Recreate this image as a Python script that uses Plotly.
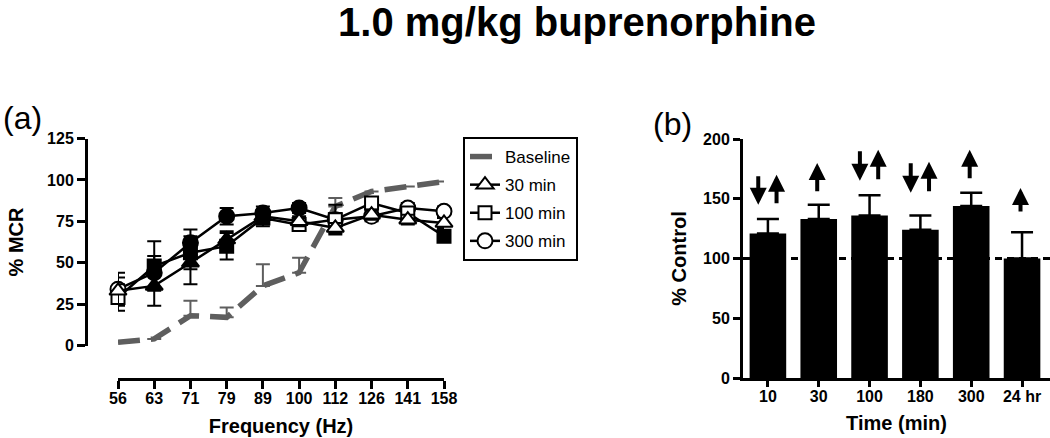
import plotly.graph_objects as go

# ---------------- data ----------------
freq_labels = ["56", "63", "71", "79", "89", "100", "112", "126", "141", "158"]

baseline_vals = [2, 4, 18, 17, 36, 44, 84, 93, 96, 99]
baseline_err = [0, 0, 9, 6, 13, 9, 5, 0, 0, 0]

min30_vals = [33, 36, 50, 64, 78, 75, 71, 79, 76, 74]
min30_err = [8, 12, 13, 5, 4, 3, 3, 3, 3, 3]
min30_sig = [False, True, True, True, True, False, False, False, False, False]

min100_vals = [29, 48, 56, 60, 77, 73, 76, 86, 80, 66]
min100_err = [8, 15, 10, 8, 5, 3, 4, 3, 3, 3]
min100_sig = [False, True, True, True, True, False, False, False, False, True]

min300_vals = [34, 44, 62, 78, 80, 83, 76, 78, 83, 81]
min300_err = [10, 10, 8, 5, 4, 3, 9, 3, 3, 3]
min300_sig = [False, True, True, True, True, True, False, False, False, False]

time_labels = ["10", "30", "100", "180", "300", "24 hr"]
ctrl_vals = [121, 133, 136, 124, 144, 100]
ctrl_err = [12, 12, 17, 12, 11, 22]
arrow_down = [True, False, True, True, False, False]
arrow_up = [True, True, True, True, True, True]
arrow_low = [145, 155, 165, 155, 166, 138]
arrow_high = [170, 180, 191, 181, 191, 159]

# ---------------- layout helpers ----------------
W, H = 1050, 438
FONT = "Liberation Sans, Arial, sans-serif"


def px_x(p):
    return p / W


def px_y(p):
    return 1 - p / H


fig = go.Figure()

xi = list(range(len(freq_labels)))

# Baseline
fig.add_trace(go.Scatter(
    x=xi, y=baseline_vals, name="Baseline", mode="lines",
    line=dict(color="#5e5e5e", width=5.5, dash="22px,11px"),
    error_y=dict(type="data", array=baseline_err, arrayminus=[0] * len(baseline_err),
                 symmetric=False, color="#5e5e5e", thickness=2, width=7),
    cliponaxis=False, xaxis="x", yaxis="y", legendgroup="g1", legendrank=1,
))

series = [
    ("30 min", min30_vals, min30_err, min30_sig, "triangle-up", 15, 2),
    ("100 min", min100_vals, min100_err, min100_sig, "square", 13, 3),
    ("300 min", min300_vals, min300_err, min300_sig, "circle", 15, 4),
]
# draw later series first so triangles sit on top (as in the original)
for name, vals, err, sig, sym, size, rank in reversed(series):
    fig.add_trace(go.Scatter(
        x=xi, y=vals, name=name, mode="lines+markers",
        line=dict(color="black", width=2.5),
        marker=dict(symbol=sym, size=size,
                    color=["black" if s else "white" for s in sig],
                    line=dict(color="black", width=2)),
        error_y=dict(type="data", array=err, color="black", thickness=2, width=7),
        cliponaxis=False, xaxis="x", yaxis="y", legendgroup="g%d" % rank,
        legendrank=rank,
    ))

# Panel (b) bars
bi = list(range(len(time_labels)))
fig.add_trace(go.Bar(
    x=bi, y=ctrl_vals, width=0.72, marker=dict(color="black", line=dict(width=0)),
    error_y=dict(type="data", array=ctrl_err, arrayminus=[0] * len(ctrl_err),
                 symmetric=False, color="black", thickness=2.5, width=11),
    showlegend=False, xaxis="x2", yaxis="y2",
))

# arrows
for i in bi:
    both = arrow_down[i] and arrow_up[i]
    if arrow_down[i]:
        xd = i - 0.19
        fig.add_annotation(x=xd, y=arrow_low[i], ax=xd, ay=arrow_high[i],
                           xref="x2", yref="y2", axref="x2", ayref="y2",
                           showarrow=True, arrowhead=2, arrowwidth=4, arrowsize=0.85,
                           arrowcolor="black", text="", standoff=0, startstandoff=0)
    if arrow_up[i]:
        xu = i + 0.17 if both else i - 0.03
        fig.add_annotation(x=xu, y=arrow_high[i], ax=xu, ay=arrow_low[i],
                           xref="x2", yref="y2", axref="x2", ayref="y2",
                           showarrow=True, arrowhead=2, arrowwidth=4, arrowsize=0.85,
                           arrowcolor="black", text="", standoff=0, startstandoff=0)

# dashed 100% reference line
fig.add_shape(type="line", xref="x2 domain", yref="y2", x0=0, x1=1, y0=100, y1=100,
              line=dict(color="black", width=3, dash="7px,5px"), layer="above")

tickfont = dict(family=FONT, size=16, color="black")
titlefont = dict(family=FONT, size=20, color="black")

fig.update_layout(
    width=W, height=H,
    margin=dict(l=0, r=0, t=0, b=0, autoexpand=False),
    paper_bgcolor="white", plot_bgcolor="white",
    font=dict(family=FONT, color="black"),
    title=dict(text="<b>1.0 mg/kg buprenorphine</b>", x=577 / W, xanchor="center",
               y=px_y(22), yanchor="middle", font=dict(family=FONT, size=40, color="black"),
               automargin=False),
    xaxis=dict(domain=[px_x(118), px_x(444)], range=[0, 9], anchor="free",
               position=px_y(379), automargin=False,
               tickmode="array", tickvals=xi, ticktext=["<b>%s</b>" % t for t in freq_labels],
               ticks="outside", ticklen=8, tickwidth=2.5, tickcolor="black",
               ticklabelstandoff=-4,
               showline=True, linecolor="black", linewidth=3, showgrid=False, zeroline=False,
               tickfont=tickfont,
               title=dict(text="<b>Frequency (Hz)</b>", font=titlefont, standoff=12)),
    yaxis=dict(domain=[px_y(345.5), px_y(138.5)], range=[0, 125], anchor="free",
               position=px_x(86), automargin=False,
               tickmode="array", tickvals=[0, 25, 50, 75, 100, 125],
               ticktext=["<b>%d</b>" % v for v in [0, 25, 50, 75, 100, 125]],
               ticks="outside", ticklen=8, tickwidth=2.5, tickcolor="black",
               showline=True, linecolor="black", linewidth=3, showgrid=False, zeroline=False,
               tickfont=tickfont,
               title=dict(text="<b>% MCR</b>", font=titlefont, standoff=17)),
    xaxis2=dict(domain=[px_x(743), 1.0], range=[-0.49, 5.55], anchor="y2", automargin=False,
                tickmode="array", tickvals=bi, ticktext=["<b>%s</b>" % t for t in time_labels],
                ticks="outside", ticklen=6, tickwidth=2.5, tickcolor="black",
                ticklabelstandoff=-4,
                showline=True, linecolor="black", linewidth=3, showgrid=False, zeroline=False,
                tickfont=tickfont,
                title=dict(text="<b>Time (min)</b>", font=titlefont, standoff=12)),
    yaxis2=dict(domain=[px_y(378), px_y(139)], range=[0, 200], anchor="x2", automargin=False,
                tickmode="array", tickvals=[0, 50, 100, 150, 200],
                ticktext=["<b>%d</b>" % v for v in [0, 50, 100, 150, 200]],
                ticks="outside", ticklen=7, tickwidth=2.5, tickcolor="black",
                showline=True, linecolor="black", linewidth=3, showgrid=False, zeroline=False,
                tickfont=tickfont,
                title=dict(text="<b>% Control</b>", font=titlefont, standoff=12)),
    legend=dict(x=px_x(463), y=px_y(137), xanchor="left", yanchor="top",
                bordercolor="black", borderwidth=2, bgcolor="white",
                font=dict(family=FONT, size=17, color="black"),
                tracegroupgap=3, itemwidth=30, traceorder="grouped"),
    bargap=0.28,
)

fig.add_annotation(text="(a)", x=px_x(1), y=px_y(118), xref="paper", yref="paper",
                   xanchor="left", yanchor="middle", showarrow=False,
                   font=dict(family=FONT, size=32, color="black"))
fig.add_annotation(text="(b)", x=px_x(651), y=px_y(124), xref="paper", yref="paper",
                   xanchor="left", yanchor="middle", showarrow=False,
                   font=dict(family=FONT, size=32, color="black"))

fig.write_html(
    "out.html",
    config={"displayModeBar": False},
    post_script="document.body.style.margin='0';document.body.style.padding='0';"
                "document.documentElement.style.overflow='hidden';",
)
